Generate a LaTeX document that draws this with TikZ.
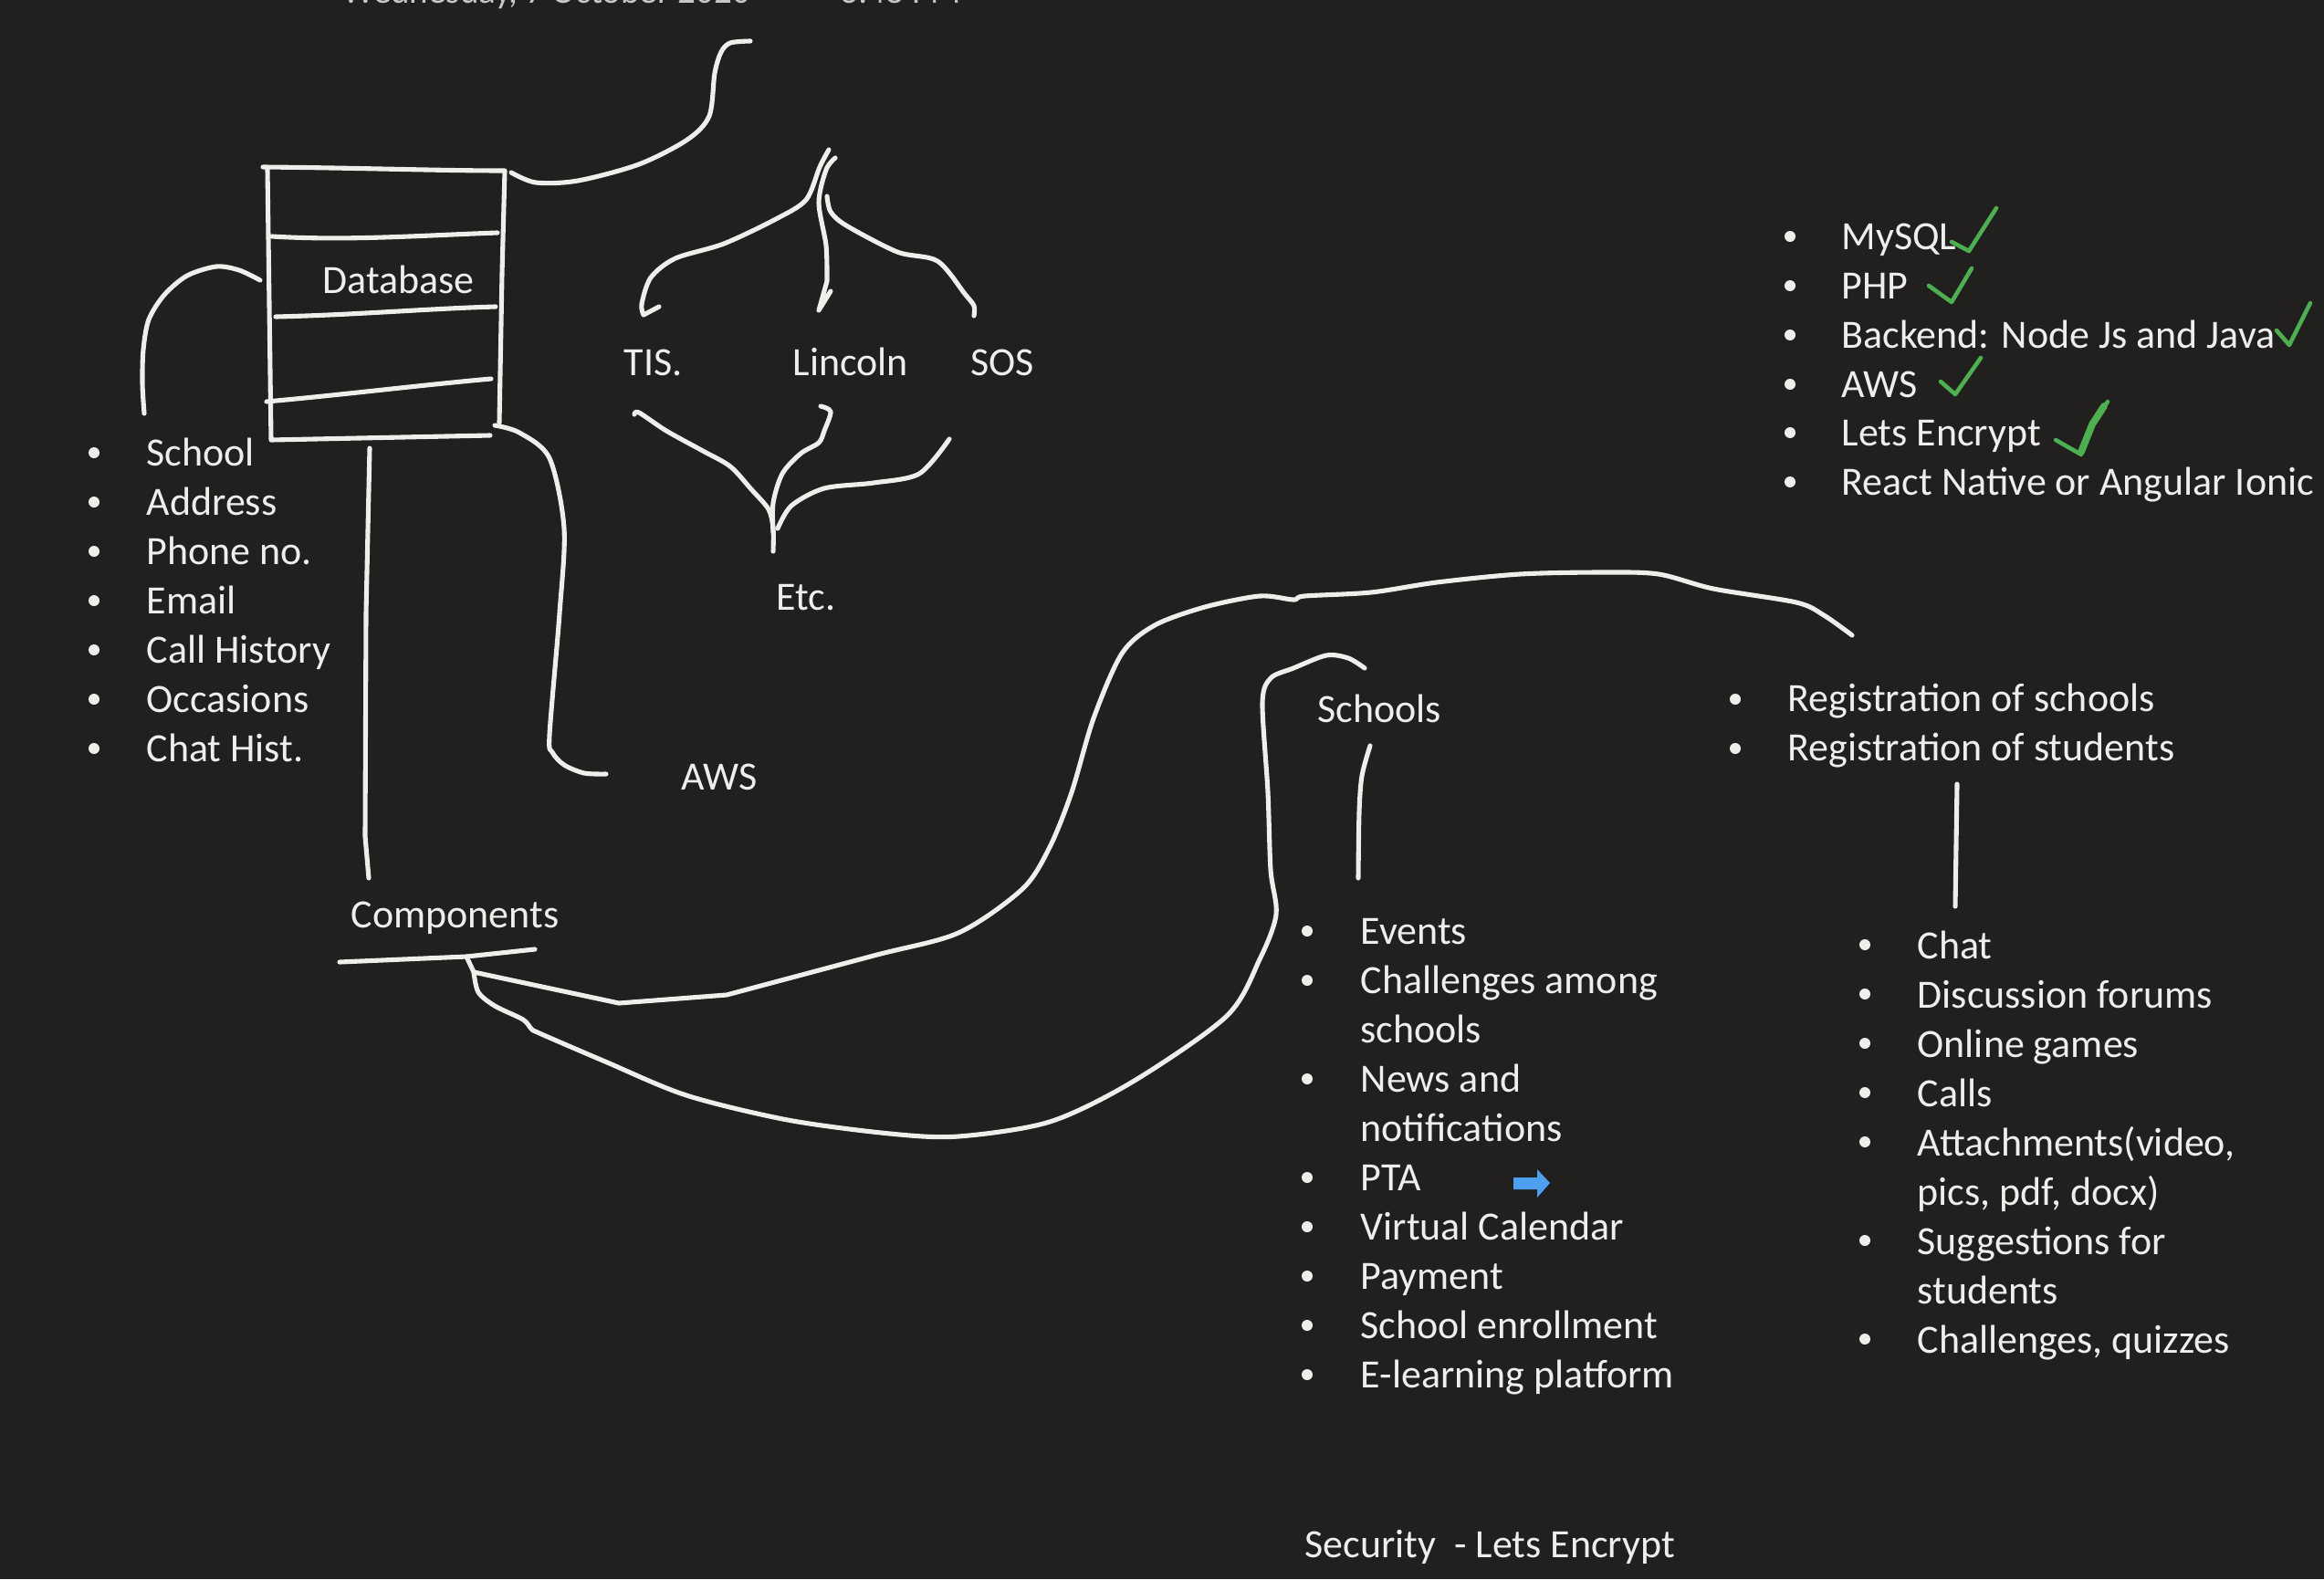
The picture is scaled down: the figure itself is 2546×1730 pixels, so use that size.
\documentclass[tikz,border=0pt]{standalone}
\usepackage{fontspec}
\setmainfont{Carlito}
\definecolor{bg}{RGB}{33,32,31}
\definecolor{ink}{RGB}{240,238,235}
\definecolor{chk}{RGB}{76,175,80}
\definecolor{arrowblue}{RGB}{77,160,240}
\definecolor{dategray}{RGB}{200,200,200}
\begin{document}
\begin{tikzpicture}[x=0.01cm, y=-0.01cm,
  txt/.style={text=ink, font=\fontsize{12.5}{15}\selectfont, inner sep=0, anchor=base west},
  datetxt/.style={text=dategray, font=\fontsize{11.1}{13}\selectfont, inner sep=0, anchor=base west},
  pen/.style={draw=ink, line width=1.45pt, line cap=round, line join=round},
  tick/.style={draw=chk, line width=1.3pt, line cap=round, line join=round},
  bul/.style={fill=ink}]
\fill[bg] (0,0) rectangle (2546,1730);
\useasboundingbox (0,0) rectangle (2546,1730);

% date header (cut off at top, as in the original page)
\node[datetxt] (date) at (375,3) {Wednesday, 7 October 2020};
\node[datetxt] (time) at (920,3) {3:48 PM};

% ---------- Database box ----------
\draw[pen] (288,183) .. controls (400,184) and (480,187) .. (553,187) -- (550,300) -- (547,463);
\draw[pen] (293,185) -- (297,482) -- (537,477);
\draw[pen] (298,259) .. controls (380,264) and (460,258) .. (545,255);
\draw[pen] (302,347) .. controls (390,345) and (470,338) .. (543,336);
\draw[pen] (292,440) .. controls (380,432) and (460,422) .. (538,415);
\node[txt] (db) at (353,321) {Database};

% arc to the left list
\draw[pen] plot[smooth] coordinates {(285,307) (262,296) (237,292) (205,302) (180,323) (163,350) (157,383) (156,420) (158,453)};

% connector up-right
\draw[pen] plot[smooth] coordinates {(560,189) (587,200) (633,198) (700,180) (753,153) (777,127) (783,80) (790,57) (800,47) (822,45)};

% connector to AWS
\draw[pen] plot[smooth] coordinates {(542,466) (569,474) (602,502) (618,579) (613,672) (602,805) (605,824) (618,838) (640,847) (664,848)};
\node[txt] (aws) at (746,865) {AWS};

% connector to Components
\draw[pen] (405,491) -- (401,672) -- (400,916) -- (404,962);

% ---------- left list ----------
\foreach \t [count=\i from 0] in {School,Address,Phone no.,Email,Call History,Occasions,Chat Hist.}{
  \fill[bul] (103,{509+54*\i-13}) circle (6);
  \node[txt] (l\i) at (160,{510+54*\i}) {\t};
}

% ---------- schools fork ----------
\node[txt] (tis) at (683,411) {TIS.};
\node[txt] (lincoln) at (868,411) {Lincoln};
\node[txt] (sos) at (1063,411) {SOS};
\node[txt] (etc) at (850,668) {Etc.};
\draw[pen] plot[smooth] coordinates {(908,164) (898,183) (883,219) (850,240) (793,267) (740,283) (713,304) (703,333) (705,345)} -- (722,336);
\draw[pen] plot[smooth] coordinates {(915,173) (905,186) (897,222) (905,269) (906,308)} -- (897,340) -- (910,319);
\draw[pen] plot[smooth] coordinates {(906,215) (910,232) (927,247) (983,276) (1027,286) (1057,322) (1067,335) (1067,346)};
\draw[pen] plot[smooth] coordinates {(695,454) (700,452) (730,472) (770,494) (800,511) (823,536) (842,558) (847,579) (847,604)};
\draw[pen] plot[smooth] coordinates {(899,445) (910,451) (903,472) (897,485) (877,497) (857,519) (847,551) (847,583)};
\draw[pen] plot[smooth] coordinates {(1040,481) (1007,519) (957,529) (903,535) (867,554) (852,579)};

% ---------- Components ----------
\node[txt] (comp) at (384,1016) {Components};
\draw[pen] (372,1054) -- (511,1048) -- (586,1040);
\draw[pen] (511,1048) -- (519,1065) -- (678,1099) -- (796,1090)
  plot[smooth] coordinates {(796,1090) (957,1047) (1050,1022) (1120,974) (1150,928) (1174,868) (1198,787) (1229,716) (1265,685) (1320,665) (1380,653) (1417,657) (1429,653) (1502,649) (1574,638) (1665,629) (1756,627) (1817,629) (1877,645) (1968,660) (1998,674) (2029,696)};
\draw[pen] plot[smooth] coordinates {(519,1065) (524,1087) (542,1102) (573,1117) (582,1127) (591,1132) (663,1163) (752,1200) (863,1227) (975,1242) (1050,1245) (1150,1229) (1241,1185) (1344,1113) (1380,1051) (1398,1002) (1392,953) (1389,868) (1383,770) (1392,743) (1417,732) (1453,718) (1477,721) (1495,732)};

% ---------- Schools ----------
\node[txt] (schools) at (1443,791) {Schools};
\draw[pen] plot[smooth] coordinates {(1501,817) (1492,850) (1489,890) (1488,962)};
\foreach \t/\b [count=\i from 0] in {Events/1,Challenges among/1,schools/0,News and/1,notifications/0,PTA/1,Virtual Calendar/1,Payment/1,School enrollment/1,E-learning platform/1}{
  \ifnum\b=1 \fill[bul] (1432,{1033+54*\i-13}) circle (6); \fi
  \node[txt] (s\i) at (1490,{1034+54*\i}) {\t};
}
\fill[arrowblue] (1658,1290) -- (1684,1290) -- (1684,1281) -- (1698,1296) -- (1684,1312) -- (1684,1303) -- (1658,1303) -- cycle;

% ---------- Registration ----------
\fill[bul] (1901,766) circle (6);
\fill[bul] (1901,820) circle (6);
\node[txt] (reg1) at (1958,779) {Registration of schools};
\node[txt] (reg2) at (1958,833) {Registration of students};
\draw[pen] (2144,859) -- (2142,993);
\foreach \t/\b [count=\i from 0] in {Chat/1,Discussion forums/1,Online games/1,Calls/1,{Attachments(video,}/1,{pics, pdf, docx)}/0,Suggestions for/1,students/0,{Challenges, quizzes}/1}{
  \ifnum\b=1 \fill[bul] (2043,{1048+54*\i-13}) circle (6); \fi
  \node[txt] (r\i) at (2100,{1050+54*\i}) {\t};
}

% ---------- Tech list ----------
\foreach \t/\yy [count=\i from 0] in {MySQL/272,PHP/326,Backend: Node Js and Java/380,AWS/434,Lets Encrypt/487,React Native or Angular Ionic/541}{
  \fill[bul] (1961,{\yy-13}) circle (6);
  \node[txt] (t\i) at (2017,{\yy+1}) {\t};
}
\draw[tick] (2138,265) -- (2157,275) -- (2187,228);
\draw[tick] (2113,313) -- (2138,331) -- (2160,294);
\draw[tick] (2494,362) -- (2508,378) -- (2531,332);
\draw[tick] (2126,418) -- (2142,432) -- (2170,392);
\draw[tick] (2252,482) -- (2280,498) -- (2291,467) -- (2309,440);
\draw[tick, line width=2.2pt] (2280,495) -- (2292,465) -- (2305,445);

% ---------- Security ----------
\node[txt] (sec) at (1429,1706) {Security\ \ - Lets Encrypt};
\end{tikzpicture}
\end{document}
